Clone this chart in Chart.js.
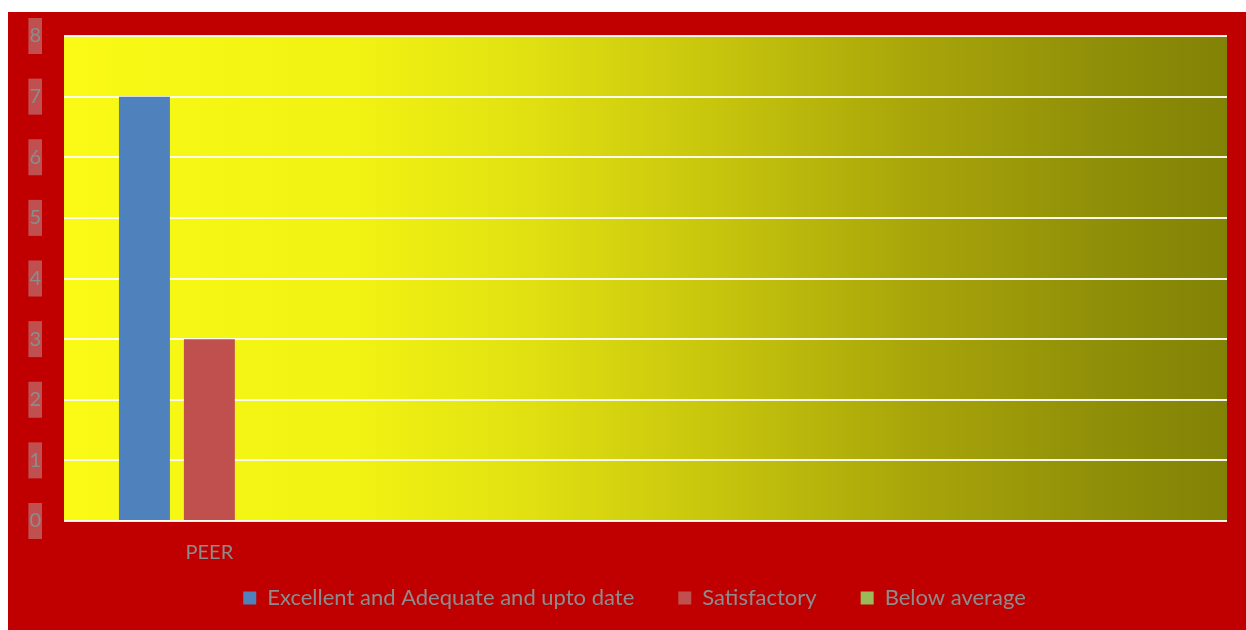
<!DOCTYPE html>
<html>
<head>
<meta charset="utf-8">
<script src="https://cdn.jsdelivr.net/npm/chart.js@4/dist/chart.umd.min.js"></script>
<style>
  html, body { margin: 0; padding: 0; background: #ffffff; }
  #wrap { position: absolute; left: 8px; top: 12px; width: 1238px; height: 618px; background: #c00000; }
</style>
</head>
<body>
<div id="wrap"><canvas id="myChart"></canvas></div>
<script>
// chart data
var categories = ['PEER', '', '', ''];
var seriesNames = ['Excellent and Adequate and upto date', 'Satisfactory', 'Below average'];
var excellent = [7, null, null, null];
var satisfactory = [3, null, null, null];
var belowAverage = [0, null, null, null];
var yMin = 0;
var yMax = 8;
var yStep = 1;

var labelColor = '#8c8c8c';
var fontName = 'Lato';

// yellow -> olive fill behind the plot area
var plotBackground = {
  id: 'plotBackground',
  beforeDraw: function(chart) {
    var a = chart.chartArea;
    var c = chart.ctx;
    var g = c.createLinearGradient(a.left, 0, a.right, 0);
    g.addColorStop(0, '#fafa16');
    g.addColorStop(0.25, '#f2f213');
    g.addColorStop(0.38, '#e3e312');
    g.addColorStop(0.55, '#c9c70d');
    g.addColorStop(0.72, '#aaa70a');
    g.addColorStop(0.89, '#908f08');
    g.addColorStop(1, '#828206');
    c.save();
    c.fillStyle = g;
    c.fillRect(a.left, a.top, a.right - a.left, a.bottom - a.top);
    c.restore();
  }
};

var ctx = document.getElementById('myChart').getContext('2d');
var myChart = new Chart(ctx, {
  type: 'bar',
  data: {
    labels: categories,
    datasets: [
      { label: seriesNames[0], data: excellent, backgroundColor: '#4f81bd', borderWidth: 0 },
      { label: seriesNames[1], data: satisfactory, backgroundColor: '#c0504d', borderWidth: 0 },
      { label: seriesNames[2], data: belowAverage, backgroundColor: '#9bbb59', borderWidth: 0 }
    ]
  },
  options: {
    responsive: true,
    maintainAspectRatio: false,
    animation: false,
    categoryPercentage: 0.67,
    barPercentage: 0.785,
    layout: { padding: { top: 24, right: 19, bottom: 11, left: 0 } },
    plugins: {
      tooltip: { enabled: false },
      legend: {
        position: 'bottom',
        fullSize: false,
        labels: {
          color: labelColor,
          font: { family: fontName, size: 22 },
          boxWidth: 13,
          boxHeight: 13,
          padding: 22,
          generateLabels: function(chart) {
            var items = Chart.defaults.plugins.legend.labels.generateLabels(chart);
            // wider gap between entries
            items.forEach(function(it) {
              it.text = it.text + '\u2002\u2002';
            });
            return items;
          }
        }
      }
    },
    scales: {
      x: {
        grid: { display: false, drawTicks: false },
        border: { display: false },
        ticks: {
          color: labelColor,
          font: { family: fontName, size: 20 },
          padding: 20
        },
        afterFit: function(scale) {
          scale.height = 44;
          scale.paddingLeft = 0;
          scale.paddingRight = 0;
        }
      },
      y: {
        min: yMin,
        max: yMax,
        grid: { color: 'rgba(255,255,255,0.92)', lineWidth: 2, drawTicks: false },
        border: { display: false },
        ticks: {
          stepSize: yStep,
          color: labelColor,
          font: { family: fontName, size: 20 },
          padding: 23,
          showLabelBackdrop: true,
          backdropColor: '#c05050',
          backdropPadding: { top: 6, bottom: 6, left: 1, right: 1 }
        },
        afterFit: function(scale) {
          scale.width = 56;
          scale.paddingTop = 0;
          scale.paddingBottom = 0;
        }
      }
    }
  },
  plugins: [plotBackground]
});
</script>
</body>
</html>
